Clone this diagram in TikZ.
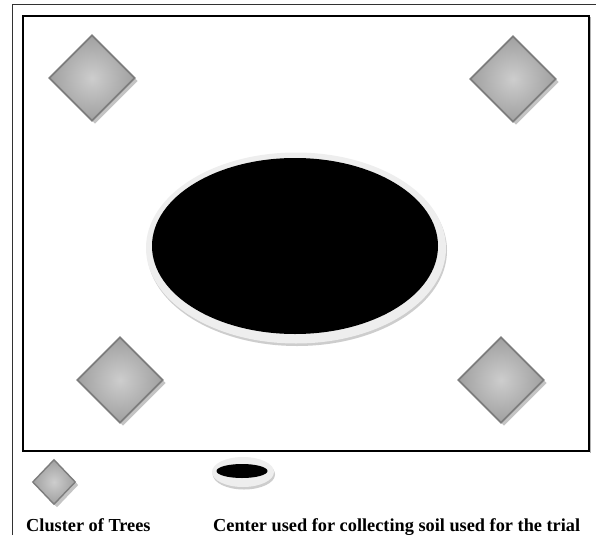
\documentclass[tikz,border=0pt]{standalone}
\usepackage{fontspec}
\setmainfont{Liberation Serif}
\usetikzlibrary{shapes.geometric,shadows}
\definecolor{treeedge}{RGB}{125,125,125}
\definecolor{treein}{RGB}{205,205,205}
\definecolor{treeout}{RGB}{160,160,160}
\definecolor{treeshadow}{RGB}{196,196,196}
\definecolor{ringfill}{RGB}{238,238,238}
\definecolor{ringshadow}{RGB}{205,205,205}
\definecolor{framegray}{RGB}{50,50,50}
\tikzset{
  tree/.style={diamond, aspect=1, inner sep=0pt, draw=treeedge, line width=1.8pt,
    shading=radial, inner color=treein, outer color=treeout,
    drop shadow={shadow xshift=3pt, shadow yshift=-3pt, fill=treeshadow, opacity=1}},
  hole/.style={ellipse, inner sep=0pt, fill=black},
  ring/.style={ellipse, inner sep=0pt, fill=ringfill,
    drop shadow={shadow xshift=1pt, shadow yshift=-2.5pt, fill=ringshadow, opacity=1}},
  label/.style={anchor=base west, inner sep=0pt, font=\fontsize{18.3}{20}\selectfont\bfseries}
}
\begin{document}
\begin{tikzpicture}[x=1pt,y=-1pt]
\useasboundingbox (0,0) rectangle (596,535);
\fill[white] (0,0) rectangle (596,535);
% outer frame
\draw[framegray, line width=1.6pt] (12.5,535) -- (12.5,4.5) -- (596,4.5);
% inner frame with shadow
\draw[gray!60, line width=1.2pt] (590.5,17.5) -- (590.5,452.5);
\draw[black, line width=1.8pt] (22.8,15.8) rectangle (589,451);
% trees
\node[tree, minimum width=86pt, minimum height=86pt] (tl) at (92,78) {};
\node[tree, minimum width=86pt, minimum height=86pt] (tr) at (513,79) {};
\node[tree, minimum width=86pt, minimum height=86pt] (bl) at (120,380) {};
\node[tree, minimum width=86pt, minimum height=86pt] (br) at (501,380) {};
% central collecting area
\node[ring, minimum width=300pt, minimum height=191pt] (centerring) at (296,248) {};
\node[hole, minimum width=286pt, minimum height=176pt] (center) at (295,246) {};
% legend
\node[tree, line width=1.4pt, minimum width=43pt, minimum height=45pt,
  drop shadow={shadow xshift=1.5pt, shadow yshift=-1.5pt, fill=treeshadow, opacity=1}] (legtree) at (54,482) {};
\node[ring, minimum width=62pt, minimum height=30pt,
  drop shadow={shadow xshift=0.5pt, shadow yshift=-1.5pt, fill=ringshadow, opacity=1}] (legring) at (243,472) {};
\node[hole, minimum width=51pt, minimum height=14pt] (legcenter) at (242,471) {};
\node[label] (treelabel) at (26,531) {Cluster of Trees};
\node[label] (centerlabel) at (213,531) {Center used for collecting soil used for the trial};
\end{tikzpicture}
\end{document}
